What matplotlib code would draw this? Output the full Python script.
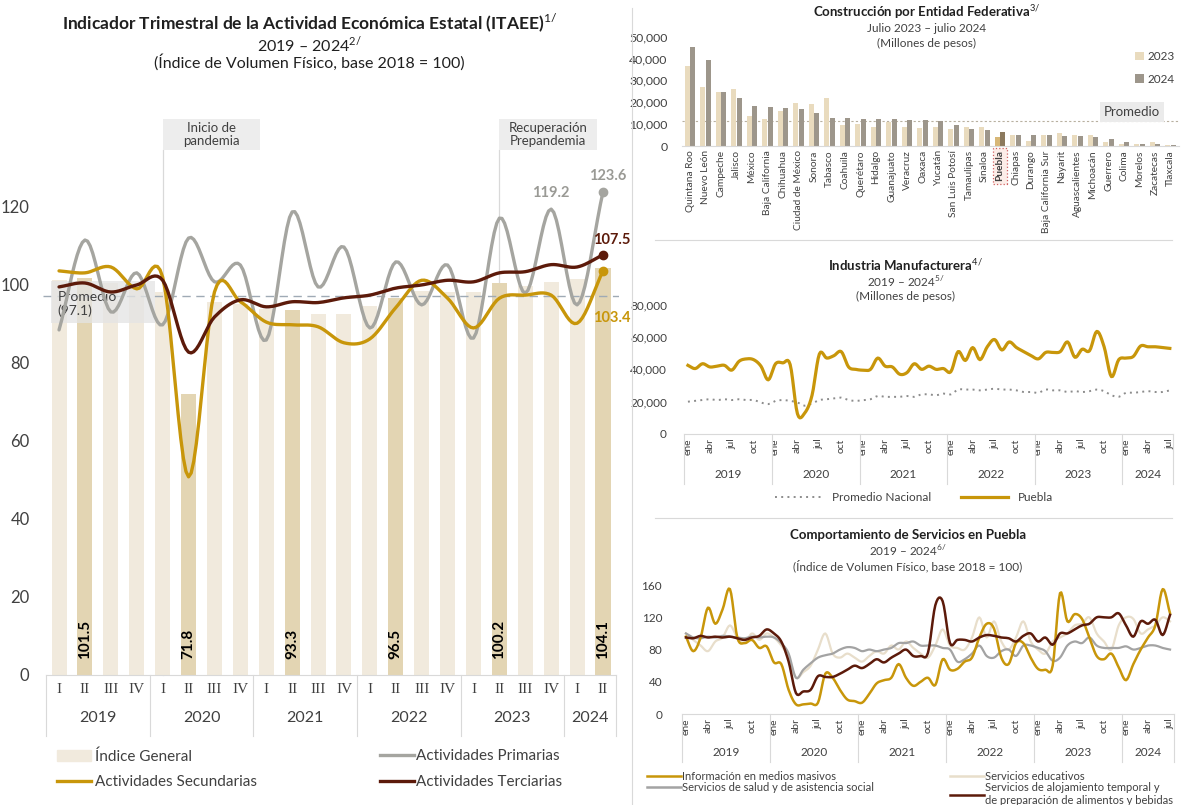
import numpy as np
import matplotlib.pyplot as plt
from matplotlib.patches import Rectangle, Patch
from matplotlib.lines import Line2D
import matplotlib.transforms as mtransforms

plt.rcParams['font.family'] = ['Lato', 'DejaVu Sans']
plt.rcParams['mathtext.fontset'] = 'custom'
plt.rcParams['mathtext.rm'] = 'Lato'
plt.rcParams['mathtext.bf'] = 'Lato:bold'

# ---------------- data ----------------
# ITAEE Puebla, trimestral 2019 I - 2024 II
quarters = ['I', 'II', 'III', 'IV'] * 5 + ['I', 'II']
q_years = ['2019'] * 4 + ['2020'] * 4 + ['2021'] * 4 + ['2022'] * 4 + ['2023'] * 4 + ['2024'] * 2
indice_general = [101.0, 101.5, 100.2, 100.0, 98.0, 71.8, 95.5, 95.0, 93.6, 93.3, 92.4,
                  92.4, 94.3, 96.5, 98.2, 98.0, 97.9, 100.2, 99.5, 100.6, 101.3, 104.1]
primarias = [88.3, 111.3, 92.9, 102.9, 89.6, 111.8, 100.6, 104.9, 85.7, 118.5, 99.3,
             109.5, 88.8, 105.7, 94.7, 104.9, 86.2, 116.9, 97.7, 119.2, 94.7, 123.6]
secundarias = [103.4, 102.9, 104.4, 98.8, 101.8, 50.7, 98.0, 95.5, 90.3, 89.6, 89.1,
               85.0, 86.0, 94.0, 101.0, 96.4, 88.8, 96.4, 97.2, 97.2, 90.0, 103.4]
terciarias = [99.3, 100.3, 98.0, 99.8, 101.0, 82.6, 91.6, 96.0, 94.2, 95.5, 95.3,
              96.5, 97.2, 99.0, 99.8, 101.0, 100.6, 102.9, 103.2, 105.0, 104.4, 107.5]
promedio_itaee = 97.1

# Construcción por entidad federativa (millones de pesos)
estados = ['Quintana Roo', 'Nuevo León', 'Campeche', 'Jalisco', 'México', 'Baja California',
           'Chihuahua', 'Ciudad de México', 'Sonora', 'Tabasco', 'Coahuila', 'Querétaro',
           'Hidalgo', 'Guanajuato', 'Veracruz', 'Oaxaca', 'Yucatán', 'San Luis Potosí',
           'Tamaulipas', 'Sinaloa', 'Puebla', 'Chiapas', 'Durango', 'Baja California Sur',
           'Nayarit', 'Aguascalientes', 'Michoacán', 'Guerrero', 'Colima', 'Morelos',
           'Zacatecas', 'Tlaxcala']
constr_2023 = [36700, 27100, 24800, 25900, 13900, 12500, 16200, 19800, 19100, 21800, 9600,
               9900, 8800, 10800, 8600, 8100, 8800, 7900, 8800, 8900, 4000, 5000, 2400,
               5000, 6100, 5000, 5000, 2000, 1000, 800, 1800, 400]
constr_2024 = [45100, 39300, 24800, 22100, 18300, 18000, 17200, 16800, 14900, 12800, 12800,
               12300, 12200, 12200, 11800, 11700, 11500, 9600, 7800, 7200, 6600, 5000, 5000,
               5000, 4400, 4400, 4000, 3000, 2000, 1100, 1000, 300]
promedio_constr = 11500

# Industria manufacturera, mensual ene 2019 - jul 2024 (miles de millones -> x1000)
meses = ['ene', 'abr', 'jul', 'oct']
manuf_puebla = [42.5, 40.5, 43.5, 41.5, 42.0, 42.5, 39.5, 45.0, 46.5, 46.0, 42.0, 33.5,
                43.5, 44.0, 43.0, 12.5, 13.0, 24.0, 49.5, 47.0, 48.5, 51.0, 41.5, 40.0,
                39.5, 40.0, 47.0, 42.0, 41.5, 37.0, 38.0, 43.5, 40.0, 42.0, 40.0, 40.5,
                38.5, 51.0, 45.5, 53.5, 46.0, 54.0, 58.5, 52.0, 57.0, 53.5, 51.0, 48.5,
                46.5, 50.5, 50.5, 51.0, 57.0, 47.5, 52.5, 51.5, 63.5, 54.0, 35.5, 46.0,
                47.0, 48.0, 54.5, 54.0, 54.0, 53.5, 53.0]
manuf_nacional = [20.0, 20.5, 21.0, 21.5, 21.0, 21.5, 21.0, 21.5, 21.0, 21.0, 19.5, 18.5,
                  20.5, 21.0, 20.5, 19.5, 17.5, 19.0, 21.0, 21.5, 22.0, 22.5, 21.0, 20.5,
                  21.0, 21.5, 23.5, 23.0, 23.0, 23.0, 23.5, 23.0, 24.5, 24.5, 24.0, 25.0,
                  24.5, 27.5, 27.5, 27.5, 27.0, 27.5, 28.0, 27.5, 27.5, 27.0, 26.0, 26.0,
                  25.5, 27.5, 27.0, 27.0, 26.0, 26.5, 26.0, 26.5, 27.5, 26.5, 24.0, 23.0,
                  25.5, 25.5, 26.0, 26.5, 26.0, 26.0, 27.0]

# Servicios en Puebla, mensual (índice base 2018 = 100)
serv_info = [96, 78, 95, 132, 112, 130, 155, 95, 88, 92, 82, 84,
             64, 62, 30, 12, 12, 13, 14, 50, 45, 30, 18, 16,
             14, 25, 38, 42, 45, 62, 45, 35, 40, 45, 36, 68,
             55, 56, 65, 70, 95, 112, 106, 70, 62, 88, 88, 70,
             56, 55, 60, 150, 115, 124, 118, 95, 72, 68, 75, 58,
             42, 62, 80, 95, 110, 155, 125]
serv_edu = [100, 92, 85, 78, 90, 95, 110, 95, 88, 100, 92, 100,
            95, 85, 70, 45, 52, 60, 80, 100, 75, 70, 75, 70,
            65, 72, 78, 75, 85, 80, 90, 82, 75, 70, 85, 105,
            85, 82, 80, 95, 120, 95, 115, 90, 80, 95, 115, 90,
            80, 75, 90, 95, 100, 110, 112, 120, 100, 90, 80, 110,
            120, 118, 100, 105, 110, 120, 115]
serv_salud = [100, 95, 94, 96, 95, 97, 96, 95, 94, 96, 95, 96,
              95, 88, 75, 45, 55, 63, 70, 73, 75, 80, 83, 82,
              78, 80, 78, 80, 82, 88, 88, 90, 85, 85, 85, 82,
              80, 65, 68, 75, 85, 72, 70, 78, 80, 72, 85, 85,
              82, 78, 66, 70, 85, 90, 88, 95, 85, 82, 82, 82,
              84, 80, 82, 85, 85, 82, 80]
serv_aloj = [95, 94, 97, 95, 96, 95, 96, 94, 92, 95, 97, 105,
             100, 90, 65, 26, 28, 30, 47, 46, 46, 50, 55, 60,
             57, 62, 68, 64, 70, 75, 80, 72, 72, 76, 135, 140,
             88, 92, 92, 90, 95, 98, 97, 95, 94, 90, 97, 100,
             90, 95, 86, 100, 100, 105, 110, 112, 120, 120, 120, 125,
             110, 96, 115, 112, 117, 98, 123]

# ---------------- style ----------------
GOLD = '#C8960A'
GRAY = '#A5A5A0'
BROWN = '#5C1A0A'
BAR_LIGHT = '#F1EADD'
BAR_DARK = '#E3D5B3'
C23 = '#E9DBBE'
C24 = '#9D968B'
EDU = '#E8DECB'
SALUD = '#A3A3A3'
TXT = '#404040'
SEP = '#D9D9D9'


def smooth(y, n=10):
    # Catmull-Rom curve through the points (like Excel's smoothed line)
    y = np.asarray(y, dtype=float)
    x = np.arange(len(y), dtype=float)
    px = np.concatenate([[2 * x[0] - x[1]], x, [2 * x[-1] - x[-2]]])
    py = np.concatenate([[2 * y[0] - y[1]], y, [2 * y[-1] - y[-2]]])
    t = np.linspace(0, 1, n, endpoint=False)[:, None]
    outx, outy = [], []
    for arr, out in ((px, outx), (py, outy)):
        p0, p1, p2, p3 = arr[:-3], arr[1:-2], arr[2:-1], arr[3:]
        seg = 0.5 * (2 * p1 + (-p0 + p2) * t + (2 * p0 - 5 * p1 + 4 * p2 - p3) * t ** 2
                     + (-p0 + 3 * p1 - 3 * p2 + p3) * t ** 3)
        out.extend(seg.T.ravel())
        out.append(arr[-2])
    return np.array(outx), np.array(outy)


def year_axis(ax, years, year_y, sep_bottom, fs_year):
    tr = mtransforms.blended_transform_factory(ax.transData, ax.transAxes)
    uniq = list(dict.fromkeys(years))
    idx = np.arange(len(years))
    edges = [-0.5]
    for yr in uniq:
        pos = idx[np.array(years) == yr]
        ax.text(pos.mean(), year_y, yr, transform=tr, ha='center', va='center',
                fontsize=fs_year, color=TXT)
        edges.append(pos.max() + 0.5)
    for e in edges:
        ax.plot([e, e], [0, sep_bottom], transform=tr, color=SEP, lw=0.8, clip_on=False)
    ax.plot([-0.5, len(years) - 0.5], [0, 0], transform=tr, color=SEP, lw=0.8, clip_on=False)


def clean(ax):
    for s in ax.spines.values():
        s.set_visible(False)
    ax.tick_params(length=0, colors=TXT)


fig = plt.figure(figsize=(11.82, 8.05), dpi=100)

# ================= left: ITAEE =================
ax = fig.add_axes([0.0368, 0.1615, 0.4865, 0.6554])
xq = np.arange(len(indice_general))
bar_colors = [BAR_DARK if q == 'II' else BAR_LIGHT for q in quarters]
ax.bar(xq, indice_general, width=0.58, color=bar_colors, zorder=1)
for i, q in enumerate(quarters):
    if q == 'II':
        ax.text(i, 4, f'{indice_general[i]:.1f}', rotation=90, ha='center', va='bottom',
                fontsize=11, fontweight='bold', color='black', zorder=5)

ax.axhline(promedio_itaee, color='#9FAAB5', lw=1, ls=(0, (6, 4)), zorder=2)
ax.add_patch(Rectangle((-0.3, 90.0), 4.0, 10.8, facecolor='#E4E4E4', alpha=0.75,
                       edgecolor='none', zorder=2.5))
ax.text(-0.05, 98.3, f'Promedio\n({promedio_itaee})', fontsize=10, color=TXT, va='top',
        ha='left', zorder=3, linespacing=1.15)

for series, col in ((primarias, GRAY), (secundarias, GOLD), (terciarias, BROWN)):
    sx, sy = smooth(series)
    ax.plot(sx, sy, color=col, lw=2.4, zorder=4, solid_capstyle='round')
    ax.plot(xq[-1], series[-1], 'o', color=col, ms=6, zorder=5)

ax.text(19, primarias[19] + 2.3, f'{primarias[19]}', ha='center', va='bottom',
        fontsize=10.5, fontweight='bold', color='#9A9A95', zorder=6)
ax.text(21.2, primarias[21] + 2.3, f'{primarias[21]}', ha='center', va='bottom',
        fontsize=10.5, fontweight='bold', color='#9A9A95', zorder=6, clip_on=False)
ax.text(21.35, terciarias[21] + 2.0, f'{terciarias[21]}', ha='center', va='bottom',
        fontsize=10.5, fontweight='bold', color=BROWN, zorder=6, clip_on=False)
ax.text(21.35, secundarias[21] - 12.0, f'{secundarias[21]}', ha='center', va='center',
        fontsize=10.5, fontweight='bold', color=GOLD, zorder=6, clip_on=False)

# annotation boxes
for xpos, label in ((4, 'Inicio de\npandemia'), (17, 'Recuperación\nPrepandemia')):
    ax.plot([xpos, xpos], [0, 134.3], color=SEP, lw=0.9, zorder=0.5, clip_on=False)
    ax.add_patch(Rectangle((xpos, 134.3), 3.75, 7.9, facecolor='#EDEDED', edgecolor='none',
                           clip_on=False, zorder=1))
    ax.text(xpos + 1.87, 138.2, label, ha='center', va='center', fontsize=9.5,
            color=TXT, linespacing=1.1, clip_on=False)

ax.set_xlim(-0.6, 21.6)
ax.set_ylim(0, 135)
ax.set_yticks(range(0, 121, 20))
ax.set_xticks(xq)
ax.set_xticklabels(quarters, fontfamily='Liberation Serif', fontsize=11)
ax.tick_params(axis='x', pad=6)
ax.tick_params(axis='y', labelsize=12, pad=10)
clean(ax)
year_axis(ax, q_years, -0.081, -0.115, 11.5)

leg1 = ax.legend(handles=[Patch(color=BAR_LIGHT, label='Índice General'),
                          Line2D([], [], color=GOLD, lw=2.4, label='Actividades Secundarias')],
                 loc='upper left', bbox_to_anchor=(0.0, -0.115), frameon=False, fontsize=11,
                 handlelength=2.2, labelspacing=0.75, handletextpad=0.3, labelcolor=TXT)
ax.add_artist(leg1)
ax.legend(handles=[Line2D([], [], color=GRAY, lw=2.4, label='Actividades Primarias'),
                   Line2D([], [], color=BROWN, lw=2.4, label='Actividades Terciarias')],
          loc='upper left', bbox_to_anchor=(0.562, -0.115), frameon=False, fontsize=11,
          handlelength=2.2, labelspacing=0.75, handletextpad=0.1, labelcolor=TXT)

fig.text(0.262, 0.972, 'Indicador Trimestral de la Actividad Económica Estatal (ITAEE)$^{1/}$',
         ha='center', va='center', fontsize=12.5, fontweight='bold', color='#202020')
fig.text(0.262, 0.945, '2019 – 2024$^{2/}$', ha='center', va='center', fontsize=11.5, color='#202020')
fig.text(0.262, 0.923, '(Índice de Volumen Físico, base 2018 = 100)', ha='center', va='center',
         fontsize=11.5, color='#202020')

# separators of the right column
fig.add_artist(Line2D([632 / 1182, 632 / 1182], [0.0, 0.99], color=SEP, lw=0.8))
for ypx in (240, 518):
    fig.add_artist(Line2D([655 / 1182, 1172 / 1182], [1 - ypx / 805, 1 - ypx / 805],
                          color=SEP, lw=0.8))

# ================= right top: construcción =================
axc = fig.add_axes([0.5766, 0.8186, 0.4209, 0.1413])
xc = np.arange(len(estados))
c23 = [('#D7B777' if e == 'Puebla' else C23) for e in estados]
c24 = [('#8C7A5E' if e == 'Puebla' else C24) for e in estados]
axc.bar(xc - 0.18, constr_2023, width=0.33, color=c23, label='2023', zorder=2)
axc.bar(xc + 0.18, constr_2024, width=0.33, color=c24, label='2024', zorder=2)
axc.axhline(promedio_constr, color='#B8B0A0', lw=0.8, ls=(0, (2, 2)), zorder=1)
axc.set_xlim(-0.55, 31.55)
axc.set_ylim(0, 52000)
axc.set_yticks(range(0, 50001, 10000))
axc.yaxis.set_major_formatter(plt.FuncFormatter(lambda v, p: f'{v:,.0f}'))
axc.set_xticks(xc)
axc.set_xticklabels(estados, rotation=90, fontsize=7.3)
for lab in axc.get_xticklabels():
    if lab.get_text() == 'Puebla':
        lab.set_fontweight('bold')
        lab.set_color('black')
        lab.set_bbox(dict(boxstyle='square,pad=0.25', facecolor='#FCEDE8', edgecolor='#D06060',
                          linestyle=':', lw=0.9))
axc.tick_params(axis='y', labelsize=8.8, pad=10)
axc.tick_params(axis='x', pad=3)
clean(axc)
axc.spines['bottom'].set_visible(True)
axc.spines['bottom'].set_color(SEP)
axc.legend(loc='upper right', bbox_to_anchor=(1.012, 0.93), frameon=False, fontsize=8.5,
           handlelength=0.7, handleheight=0.7, handletextpad=0.3, labelspacing=1.0,
           labelcolor=TXT)
axc.text(0.905, 0.3, 'Promedio', transform=axc.transAxes, ha='center', va='center',
         fontsize=9.5, color=TXT,
         bbox=dict(boxstyle='square,pad=0.3', facecolor='#EBEBEB', edgecolor='none'))
fig.text(0.784, 0.985, 'Construcción por Entidad Federativa$^{3/}$', ha='center', va='center',
         fontsize=9.5, fontweight='bold', color='#202020')
fig.text(0.784, 0.965, 'Julio 2023 – julio 2024', ha='center', va='center', fontsize=8.5,
         color=TXT)
fig.text(0.784, 0.946, '(Millones de pesos)', ha='center', va='center', fontsize=8.5, color=TXT)

# ================= right middle: manufactura =================
axm = fig.add_axes([0.5783, 0.4609, 0.4151, 0.1605])
m_years = [str(2019 + i // 12) for i in range(len(manuf_puebla))]
xm = np.arange(len(manuf_puebla))
nx, ny = smooth(np.array(manuf_nacional) * 1000, n=4)
axm.plot(nx, ny, color='#8C8C8C', lw=1.4, ls=(0, (1, 2.2)), zorder=2)
px, py = smooth(np.array(manuf_puebla) * 1000, n=6)
axm.plot(px, py, color=GOLD, lw=2.3, zorder=3)
axm.set_xlim(-0.6, 66.6)
axm.set_ylim(0, 80000)
axm.set_yticks(range(0, 80001, 20000))
axm.yaxis.set_major_formatter(plt.FuncFormatter(lambda v, p: f'{v:,.0f}'))
axm.set_xticks(xm[::3])
axm.set_xticklabels([meses[(i // 3) % 4] for i in xm[::3]], rotation=90, fontsize=7.5)
axm.tick_params(axis='y', labelsize=8.5, pad=12)
axm.tick_params(axis='x', pad=3)
clean(axm)
year_axis(axm, m_years, -0.31, -0.39, 8.5)
axm.legend(handles=[Line2D([], [], color='#8C8C8C', lw=1.4, ls=(0, (1, 2.2)),
                           label='Promedio Nacional'),
                    Line2D([], [], color=GOLD, lw=2.3, label='Puebla')],
           loc='upper center', bbox_to_anchor=(0.47, -0.37), ncol=2, frameon=False,
           fontsize=8.5, handlelength=4, columnspacing=2.5, labelcolor=TXT)
fig.text(0.766, 0.671, 'Industria Manufacturera$^{4/}$', ha='center', va='center',
         fontsize=9.5, fontweight='bold', color='#202020')
fig.text(0.766, 0.651, '2019 – 2024$^{5/}$', ha='center', va='center', fontsize=8.5, color=TXT)
fig.text(0.766, 0.632, '(Millones de pesos)', ha='center', va='center', fontsize=8.5, color=TXT)

# ================= right bottom: servicios =================
axs = fig.add_axes([0.5766, 0.1130, 0.4170, 0.1702])
xs = np.arange(len(serv_info))
for series, col, lw in ((serv_edu, EDU, 1.6), (serv_salud, SALUD, 1.6),
                        (serv_info, GOLD, 1.8), (serv_aloj, BROWN, 1.8)):
    sx, sy = smooth(series, n=6)
    axs.plot(sx, sy, color=col, lw=lw)
axs.set_xlim(-0.6, 66.6)
axs.set_ylim(0, 170)
axs.set_yticks(range(0, 161, 40))
axs.set_xticks(xs[::3])
axs.set_xticklabels([meses[(i // 3) % 4] for i in xs[::3]], rotation=90, fontsize=7.5)
axs.tick_params(axis='y', labelsize=8.5, pad=14)
axs.tick_params(axis='x', pad=3)
clean(axs)
year_axis(axs, m_years, -0.28, -0.35, 8.5)
leg_s = axs.legend(handles=[Line2D([], [], color=GOLD, lw=1.8, label='Información en medios masivos'),
                            Line2D([], [], color=SALUD, lw=1.8,
                                   label='Servicios de salud y de asistencia social')],
                   loc='upper left', bbox_to_anchor=(-0.09, -0.34), frameon=False, fontsize=8,
                   handlelength=3, handletextpad=0.1, labelspacing=0.05, labelcolor=TXT)
axs.add_artist(leg_s)
axs.legend(handles=[Line2D([], [], color=EDU, lw=1.8, label='Servicios educativos'),
                    Line2D([], [], color=BROWN, lw=1.8,
                           label='Servicios de alojamiento temporal y\nde preparación de alimentos y bebidas')],
           loc='upper left', bbox_to_anchor=(0.525, -0.34), frameon=False, fontsize=8,
           handlelength=3, handletextpad=0.1, labelspacing=0.05, labelcolor=TXT)
fig.text(0.768, 0.335, 'Comportamiento de Servicios en Puebla', ha='center', va='center',
         fontsize=9.5, fontweight='bold', color='#202020')
fig.text(0.768, 0.316, '2019 – 2024$^{6/}$', ha='center', va='center', fontsize=8.5, color=TXT)
fig.text(0.768, 0.297, '(Índice de Volumen Físico, base 2018 = 100)', ha='center', va='center',
         fontsize=8.5, color=TXT)

fig.savefig('out.png', dpi=100, facecolor='white')
